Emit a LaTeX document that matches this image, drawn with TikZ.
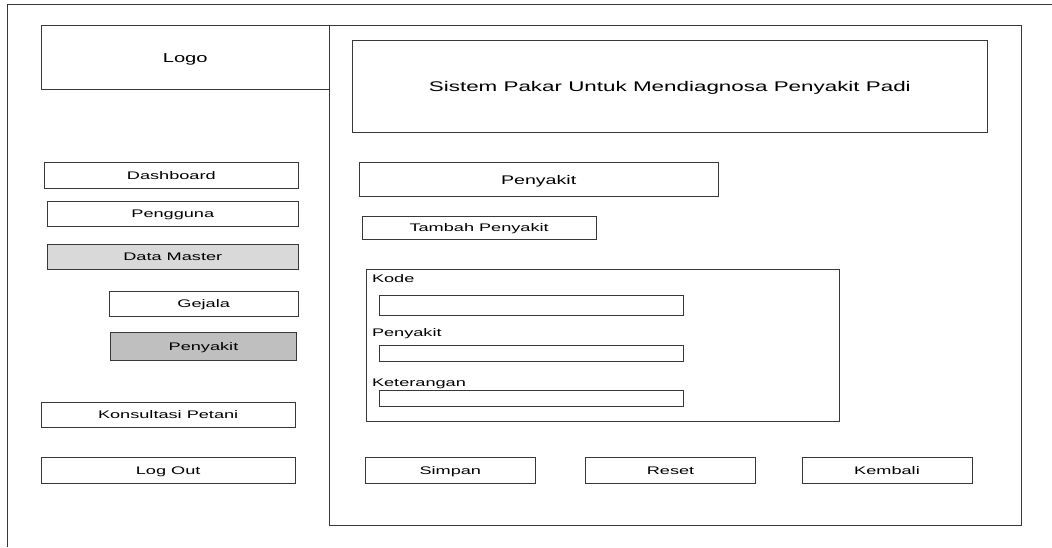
\documentclass[tikz,border=0pt]{standalone}
\usepackage{fontspec}
\setmainfont{Liberation Sans}
\usetikzlibrary{fit}

\tikzset{
  frame/.style={draw=black!78, line width=0.9pt},
  box/.style={draw=black!78, line width=0.9pt, fill=white, inner sep=0pt},
  boxlight/.style={box, fill=black!15},
  boxdark/.style={box, fill=black!25},
  lbl/.style={font=\fontsize{11}{13}\selectfont, xscale=1.65, inner sep=0pt,
              text height=7.9pt, text depth=0pt},
  lblhead/.style={font=\fontsize{12.5}{15}\selectfont, xscale=1.57, inner sep=0pt,
              text height=9pt, text depth=0pt},
  lbllogo/.style={font=\fontsize{13}{15}\selectfont, xscale=1.55, inner sep=0pt,
              text height=9.3pt, text depth=0pt},
  lbltitle/.style={font=\fontsize{14}{17}\selectfont, xscale=1.6, inner sep=0pt,
              text height=10pt, text depth=0pt},
}

\begin{document}
\begin{tikzpicture}[x=1pt, y=-1pt]
  \useasboundingbox (0,0) rectangle (1052,547);
  \fill[white] (0,0) rectangle (1052,547);

  % page frame (runs off the right and bottom edges)
  \coordinate (pgbl) at (7.5,547);
  \coordinate (pgtl) at (7.5,4);
  \coordinate (pgtr) at (1052,4);
  \draw[frame] (pgbl) -- (pgtl) -- (pgtr);

  % logo area and main content panel
  \node[box, fit={(41.5,25.7) (329,89.3)}] (logo) {};
  \node[lbllogo] (logotxt) at (logo.center) {Logo};
  \node[box, fill=none, fit={(329,25.7) (1021.7,525.5)}] (panel) {};

  % page title
  \node[box, fit={(352,40.7) (987.7,132.5)}] (titlebox) {};
  \node[lbltitle] (titletxt) at (titlebox.center) {Sistem Pakar Untuk Mendiagnosa Penyakit Padi};

  % side menu
  \node[box, fit={(44.3,162.7) (298.3,188.3)}] (mdash) {};
  \node[lbl] (mdashtxt) at (mdash.center) {Dashboard};
  \node[box, fit={(47.3,201) (298.3,226.7)}] (muser) {};
  \node[lbl] (musertxt) at (muser.center) {Pengguna};
  \node[boxlight, fit={(47.3,244.3) (298.3,269)}] (mmaster) {};
  \node[lbl] (mmastertxt) at (mmaster.center) {Data Master};
  \node[box, fit={(109,291) (298.3,316)}] (mgejala) {};
  \node[lbl] (mgejalatxt) at (mgejala.center) {Gejala};
  \node[boxdark, fit={(110.3,332.7) (296.7,360.7)}] (mpenyakit) {};
  \node[lbl] (mpenyakittxt) at (mpenyakit.center) {Penyakit};
  \node[box, fit={(41,402.3) (295.3,427.7)}] (mkonsul) {};
  \node[lbl] (mkonsultxt) at (mkonsul.center) {Konsultasi Petani};
  \node[box, fit={(41,457.7) (295.3,483.3)}] (mlogout) {};
  \node[lbl] (mlogouttxt) at (mlogout.center) {Log Out};

  % content header and add button
  \node[box, fit={(359,162.3) (718.3,196.7)}] (head) {};
  \node[lblhead] (headtxt) at (head.center) {Penyakit};
  \node[box, fit={(362.3,216) (596,239.3)}] (addbtn) {};
  \node[lbl] (addbtntxt) at (addbtn.center) {Tambah Penyakit};

  % input form
  \node[box, fit={(366,269.3) (839,421)}] (form) {};
  \node[lbl, anchor=base west] (fkode) at (371.7,282.7) {Kode};
  \node[box, fit={(379.3,295.3) (683.3,315)}] (inkode) {};
  \node[lbl, anchor=base west] (fpenyakit) at (371.7,336) {Penyakit};
  \node[box, fit={(379.3,345) (683.3,361)}] (inpenyakit) {};
  \node[lbl, anchor=base west] (fket) at (371.7,386) {Keterangan};
  \node[box, fit={(379.3,390.3) (683.3,406.7)}] (inket) {};

  % action buttons
  \node[box, fit={(365.3,457.7) (535.3,483.7)}] (bsimpan) {};
  \node[lbl] (bsimpantxt) at (bsimpan.center) {Simpan};
  \node[box, fit={(585.8,457.7) (755.3,483.7)}] (breset) {};
  \node[lbl] (bresettxt) at (breset.center) {Reset};
  \node[box, fit={(802,457.7) (972,483.7)}] (bkembali) {};
  \node[lbl] (bkembalitxt) at (bkembali.center) {Kembali};
\end{tikzpicture}
\end{document}
